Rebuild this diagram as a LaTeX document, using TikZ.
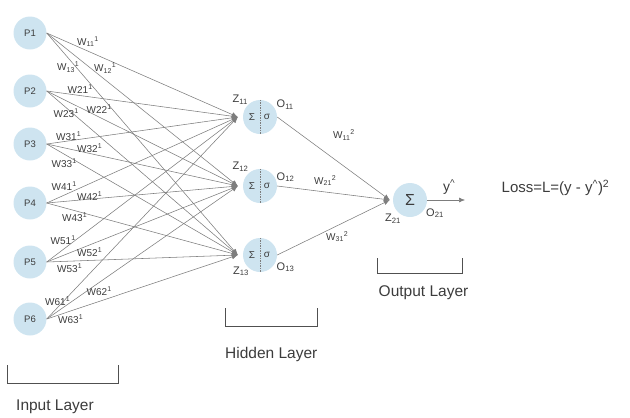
\documentclass[tikz,border=0pt]{standalone}
\usepackage{fontspec}
\setmainfont{Liberation Sans}
\usetikzlibrary{arrows.meta,calc,positioning}
\definecolor{nodeblue}{RGB}{206,228,240}
\definecolor{txtgray}{RGB}{60,60,60}
\definecolor{linegray}{RGB}{125,125,125}

\begin{document}
\begin{tikzpicture}[x=1pt,y=-1pt,>={Latex[length=6pt,width=5pt]},
	inp/.style={circle,fill=nodeblue,inner sep=0pt,minimum size=33pt,text=txtgray,font=\fontsize{9.5}{10}\selectfont},
	hid/.style={circle,fill=nodeblue,inner sep=0pt,minimum size=34pt},
	sym/.style={inner sep=0pt,text=txtgray,font=\fontsize{10}{10}\selectfont},
	wlab/.style={anchor=base west,inner sep=0pt,text=txtgray,font=\fontsize{10}{10}\selectfont},
	zlab/.style={anchor=base west,inner sep=0pt,text=txtgray,font=\fontsize{11}{11}\selectfont},
	layer/.style={anchor=base west,inner sep=0pt,text=txtgray,font=\fontsize{15.5}{16}\selectfont},
	conn/.style={draw=linegray,line width=0.55pt,->},
	brack/.style={draw=txtgray!90,line width=0.8pt}
	]
	\useasboundingbox (0,0) rectangle (630,418);

	% input layer
	\node[inp] (p1) at (30,33) {P1};
	\node[inp] (p2) at (30,91) {P2};
	\node[inp] (p3) at (30,144) {P3};
	\node[inp] (p4) at (30,203) {P4};
	\node[inp] (p5) at (30,262) {P5};
	\node[inp] (p6) at (30,319) {P6};

	% hidden layer
	\node[hid] (h1) at (260,117) {};
	\node[hid] (h2) at (260,186) {};
	\node[hid] (h3) at (260,255) {};
	\coordinate (h1in) at ($(h1.west)+(-5,0)$);
	\coordinate (h2in) at ($(h2.west)+(-5,0)$);
	\coordinate (h3in) at ($(h3.west)+(-5,0)$);

	\draw[linegray,dash pattern=on 1.5pt off 1pt] (h1.north) -- (h1.south);
	\draw[linegray,dash pattern=on 1.5pt off 1pt] (h2.north) -- (h2.south);
	\draw[linegray,dash pattern=on 1.5pt off 1pt] (h3.north) -- (h3.south);
	\node[sym] (h1s) at ($(h1)+(-8,0)$) {Σ};
	\node[sym] (h1g) at ($(h1)+(7,0)$) {σ};
	\node[sym] (h2s) at ($(h2)+(-8,0)$) {Σ};
	\node[sym] (h2g) at ($(h2)+(7,0)$) {σ};
	\node[sym] (h3s) at ($(h3)+(-8,0)$) {Σ};
	\node[sym] (h3g) at ($(h3)+(7,0)$) {σ};

	% output layer
	\node[hid] (o) at (410,200) {};
	\node[sym,font=\fontsize{16}{16}\selectfont] (os) at (o) {Σ};
	\coordinate (oin) at ($(o.west)+(-3,0)$);
	\coordinate (yout) at (465,200);

	% input -> hidden
	\draw[conn] (p1.east) -- (h1in);
	\draw[conn] (p1.east) -- (h2in);
	\draw[conn] (p1.east) -- (h3in);
	\draw[conn] (p2.east) -- (h1in);
	\draw[conn] (p2.east) -- (h2in);
	\draw[conn] (p2.east) -- (h3in);
	\draw[conn] (p3.east) -- (h1in);
	\draw[conn] (p3.east) -- (h2in);
	\draw[conn] (p3.east) -- (h3in);
	\draw[conn] (p4.east) -- (h1in);
	\draw[conn] (p4.east) -- (h2in);
	\draw[conn] (p4.east) -- (h3in);
	\draw[conn] (p5.east) -- (h1in);
	\draw[conn] (p5.east) -- (h2in);
	\draw[conn] (p5.east) -- (h3in);
	\draw[conn] (p6.east) -- (h1in);
	\draw[conn] (p6.east) -- (h2in);
	\draw[conn] (p6.east) -- (h3in);

	% hidden -> output
	\draw[conn] (h1.east) -- (oin);
	\draw[conn] (h2.east) -- (oin);
	\draw[conn] (h3.east) -- (oin);
	\draw[conn] (o.east) -- (yout);

	% weight labels
	\node[wlab] (w11) at (77,45) {W\textsubscript{11}\textsuperscript{1}};
	\node[wlab] (w13) at (57,70.5) {W\textsubscript{13}\textsuperscript{1}};
	\node[wlab] (w12) at (94,71.5) {W\textsubscript{12}\textsuperscript{1}};
	\node[wlab] (w21) at (67.5,93.5) {W21\textsuperscript{1}};
	\node[wlab] (w22) at (86.5,113.5) {W22\textsuperscript{1}};
	\node[wlab] (w23) at (53.5,117) {W23\textsuperscript{1}};
	\node[wlab] (w31) at (56,140) {W31\textsuperscript{1}};
	\node[wlab] (w32) at (77,152.5) {W32\textsuperscript{1}};
	\node[wlab] (w33) at (51.5,167.5) {W33\textsuperscript{1}};
	\node[wlab] (w41) at (51.5,190) {W41\textsuperscript{1}};
	\node[wlab] (w42) at (77,200.5) {W42\textsuperscript{1}};
	\node[wlab] (w43) at (62,221.5) {W43\textsuperscript{1}};
	\node[wlab] (w51) at (50.5,244.5) {W51\textsuperscript{1}};
	\node[wlab] (w52) at (77,256.5) {W52\textsuperscript{1}};
	\node[wlab] (w53) at (57,272.5) {W53\textsuperscript{1}};
	\node[wlab] (w61) at (45,305) {W61\textsuperscript{1}};
	\node[wlab] (w62) at (86.5,295) {W62\textsuperscript{1}};
	\node[wlab] (w63) at (58,323.5) {W63\textsuperscript{1}};

	\node[wlab] (v11) at (333,138.5) {W\textsubscript{11}\textsuperscript{2}};
	\node[wlab] (v21) at (314,184) {W\textsubscript{21}\textsuperscript{2}};
	\node[wlab] (v31) at (326,240) {W\textsubscript{31}\textsuperscript{2}};

	% z and o labels
	\node[zlab] (z11) at (232.5,102.5) {Z\textsubscript{11}};
	\node[zlab] (o11) at (276.5,107.5) {O\textsubscript{11}};
	\node[zlab] (z12) at (232.5,169.5) {Z\textsubscript{12}};
	\node[zlab] (o12) at (276.5,180) {O\textsubscript{12}};
	\node[zlab] (z13) at (233,274) {Z\textsubscript{13}};
	\node[zlab] (o13) at (276.5,270) {O\textsubscript{13}};
	\node[zlab] (z21) at (385,221.5) {Z\textsubscript{21}};
	\node[zlab] (o21) at (426,216) {O\textsubscript{21}};
	\node[zlab,font=\fontsize{14}{14}\selectfont] (yhat) at (443,191.5) {y\textsuperscript{\char94}};

	% loss
	\node[layer,font=\fontsize{15}{16}\selectfont] (loss) at (501.5,192.5) {Loss=L=(y - y\textsuperscript{\char94})\textsuperscript{2}};

	% brackets
	\draw[brack] (7,365) -- (7,383) -- (118,383) -- (118,365);
	\draw[brack] (225,308) -- (225,326) -- (317,326) -- (317,308);
	\draw[brack] (377,258) -- (377,273) -- (462,273) -- (462,258);
	\node[layer] (inlab) at (16,410) {Input Layer};
	\node[layer] (hidlab) at (225,358.5) {Hidden Layer};
	\node[layer] (outlab) at (378.5,296.5) {Output Layer};

\end{tikzpicture}
\end{document}
